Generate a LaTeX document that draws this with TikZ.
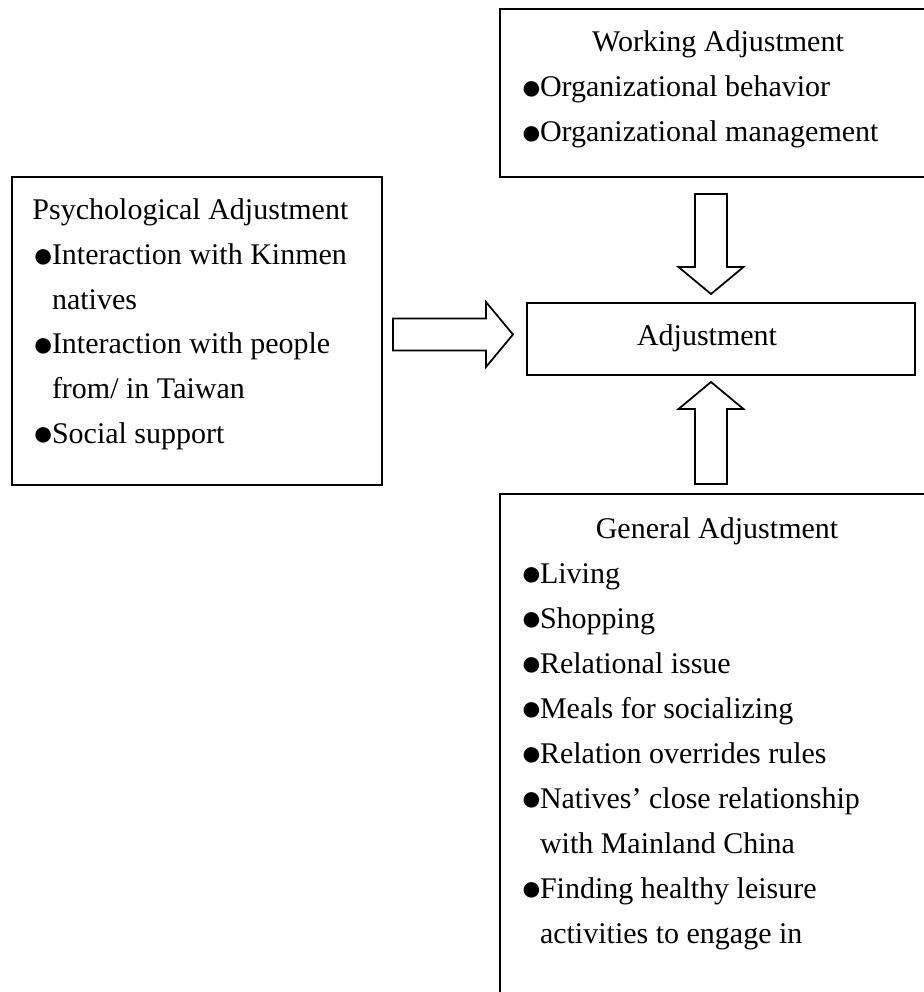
\documentclass[tikz,border=0pt]{standalone}
\usepackage{fontspec}
\setmainfont{Liberation Serif}
\usepackage{graphicx}
\usepackage{tikz}
\usetikzlibrary{calc, positioning, fit}

\newcommand{\dotb}{\makebox[7.8pt][l]{\raisebox{-1.1pt}{\scalebox{1.2}{●}}}}
\newcommand{\gap}{\hspace*{7.8pt}}

\tikzset{
  box/.style={draw, line width=0.8pt, inner sep=0pt},
  txt/.style={inner sep=0pt, anchor=base west, align=left, font=\fontsize{12pt}{18pt}\selectfont},
  head/.style={inner sep=0pt, anchor=base, font=\fontsize{12pt}{18pt}\selectfont},
  pics/fatarrow/.style={code={
    \draw[line width=0.7pt, fill=white] (0,-16) -- (#1-27,-16) -- (#1-27,-32.5) -- (#1,0)
      -- (#1-27,32.5) -- (#1-27,16) -- (0,16) -- cycle;
  }}
}

\begin{document}
\begin{tikzpicture}[x=0.4pt,y=-0.4pt]
        \useasboundingbox (0,0) rectangle (924,992);
        % Boxes
        \node[box, fit={(500,9) (930,177)}] (working) {};
        \node[box, fit={(12,177) (382,485)}] (psych) {};
        \node[box, fit={(527,303) (915,375)}] (adjust) {};
        \node[box, fit={(500,494) (930,1010)}] (general) {};
        % Texts (anchored at the last line)
        \node[head] (workinghead) at (718,52) {Working Adjustment};
        \node[txt] (workingtext) at (520,142) {\dotb Organizational behavior\\
          \dotb Organizational management};
        \node[txt, font=\fontsize{12pt}{17.85pt}\selectfont] (psychtext) at (32,443) {Psychological Adjustment\\
          \dotb Interaction with Kinmen\\
          \gap natives\\
          \dotb Interaction with people\\
          \gap from/ in Taiwan\\
          \dotb Social support};
        \node[head] (adjusttext) at (707,345) {Adjustment};
        \node[head] (generalhead) at (717,538) {General Adjustment};
        \node[txt] (generaltext) at (520,943) {\dotb Living\\
          \dotb Shopping\\
          \dotb Relational issue\\
          \dotb Meals for socializing\\
          \dotb Relation overrides rules\\
          \dotb Natives' close relationship\\
          \gap with Mainland China\\
          \dotb Finding healthy leisure\\
          \gap activities to engage in};
        % Arrows
        \pic[rotate=-90] at ($(working.south)+(-4,16)$) {fatarrow=100};
        \pic[rotate=90] at ($(general.north)+(-4,-9)$) {fatarrow=102};
        \pic at ($(psych.east)+(10,3.5)$) {fatarrow=120};
\end{tikzpicture}
\end{document}
